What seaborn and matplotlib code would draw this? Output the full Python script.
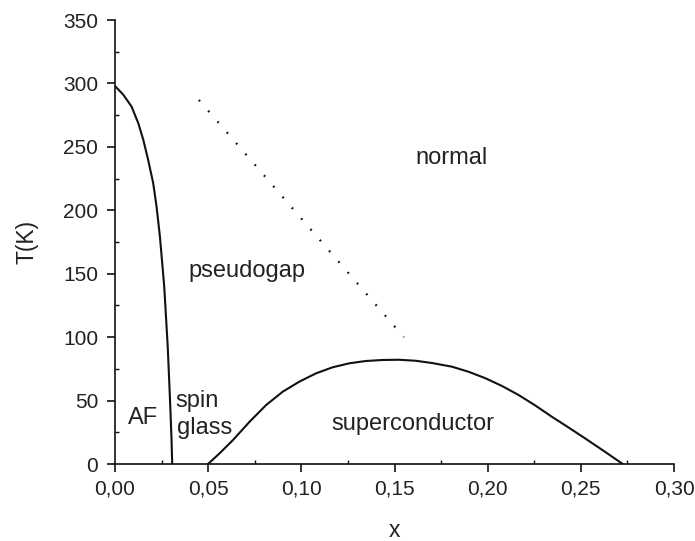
import matplotlib
matplotlib.use("Agg")
import matplotlib.pyplot as plt
import seaborn as sns
import pandas as pd
from matplotlib.ticker import FuncFormatter, MultipleLocator

# Data
af_x = [0.0, 0.0045, 0.0089, 0.0125, 0.0152, 0.0178, 0.0205, 0.0223, 0.0241,
        0.0255, 0.0264, 0.0272, 0.0283, 0.0291, 0.0298, 0.0303, 0.0307]
af_T = [298, 291, 281.7, 268.6, 255.4, 239.6, 221.3, 202.8, 179.2,
        155.5, 140, 120, 92, 65, 40, 20, 0]

sc_x = [0.0499, 0.0561, 0.0633, 0.0722, 0.0811, 0.0900, 0.0989, 0.1079, 0.1167,
        0.1257, 0.1346, 0.1435, 0.1524, 0.1613, 0.1702, 0.1809, 0.1900, 0.1988,
        0.2077, 0.2166, 0.2255, 0.2344, 0.2433, 0.2522, 0.2629, 0.2725]
sc_T = [0, 8.4, 18.9, 33.3, 46.5, 57.0, 64.9, 71.5, 76.2,
        79.4, 81.2, 82.0, 82.2, 81.4, 79.6, 76.7, 72.6, 67.6,
        61.5, 54.4, 46.2, 37.3, 28.9, 20.3, 9.7, 0]

pg_x = [0.045, 0.155]
pg_T = [287, 100]

region_labels = ["normal", "pseudogap", "AF", "spin", "glass", "superconductor"]
label_x = [0.1805, 0.0706, 0.0150, 0.0326, 0.0330, 0.1600]
label_T = [241, 152, 36, 50, 28, 31.5]
label_ha = ["center", "center", "center", "left", "left", "center"]

x_ticks = [0.00, 0.05, 0.10, 0.15, 0.20, 0.25, 0.30]
y_ticks = [0, 50, 100, 150, 200, 250, 300, 350]

sns.set_style("ticks")
plt.rcParams["font.family"] = ["Liberation Sans", "DejaVu Sans"]

fig = plt.figure(figsize=(6.95, 5.41), dpi=100)
ax = fig.add_axes([0.1655, 0.1423, 0.8043, 0.8207])

ink = "#111111"
af_df = pd.DataFrame({"x": af_x, "T": af_T})
sc_df = pd.DataFrame({"x": sc_x, "T": sc_T})
pg_df = pd.DataFrame({"x": pg_x, "T": pg_T})

sns.lineplot(data=af_df, x="x", y="T", sort=False, estimator=None, color=ink, lw=1.5,
             ax=ax, solid_joinstyle="round")
sns.lineplot(data=sc_df, x="x", y="T", sort=False, estimator=None, color=ink, lw=1.5,
             ax=ax, solid_joinstyle="round")
sns.lineplot(data=pg_df, x="x", y="T", sort=False, estimator=None, color=ink, lw=1.6,
             ax=ax, linestyle=(0, (0.8, 5.6)))

txt = "#222222"
for lab, lx, ly, ha in zip(region_labels, label_x, label_T, label_ha):
    ax.text(lx, ly, lab, ha=ha, va="center", fontsize=17, color=txt)

ax.set_xlim(0, 0.30)
ax.set_ylim(0, 350)
ax.set_xticks(x_ticks)
ax.set_yticks(y_ticks)
ax.xaxis.set_minor_locator(MultipleLocator(0.025))
ax.yaxis.set_minor_locator(MultipleLocator(25))
ax.xaxis.set_major_formatter(FuncFormatter(lambda v, p: f"{v:.2f}".replace(".", ",")))
ax.tick_params(which="major", direction="out", length=6, width=1.2, labelsize=15,
               colors=ink, labelcolor=txt)
ax.tick_params(axis="y", which="major", pad=6)
ax.tick_params(axis="x", which="major", pad=5)
ax.tick_params(which="minor", direction="in", length=3, width=1.0, colors=ink)

for s in ["top", "right"]:
    ax.spines[s].set_visible(False)
for s in ["left", "bottom"]:
    ax.spines[s].set_linewidth(1.2)
    ax.spines[s].set_color(ink)

ax.set_xlabel("x", fontsize=16.5, color=txt, labelpad=15)
ax.set_ylabel("T(K)", fontsize=16.5, color=txt, labelpad=18)

fig.savefig("out.png", dpi=100)
